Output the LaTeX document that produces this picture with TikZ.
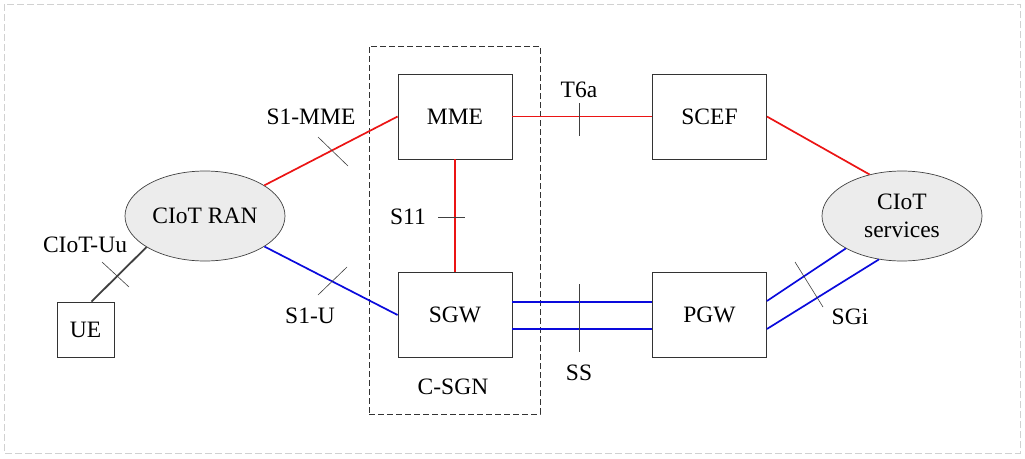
\documentclass[tikz,border=0pt]{standalone}
\usepackage{fontspec}
\setmainfont{Liberation Serif}
\usetikzlibrary{shapes.geometric}
\definecolor{lnred}{RGB}{235,20,20}
\definecolor{lnblue}{RGB}{10,10,220}
\definecolor{ellfill}{RGB}{236,236,236}
\begin{document}
\begin{tikzpicture}[x=1pt,y=-1pt,
  font=\fontsize{23.5}{28}\selectfont,
  box/.style={draw=black!80, line width=0.8pt, fill=white, minimum width=114pt, minimum height=85pt, inner sep=0pt},
  ell/.style={ellipse, draw=black!75, line width=0.7pt, fill=ellfill, minimum width=160pt, minimum height=90pt, inner sep=0pt, align=center},
  redline/.style={draw=lnred, line width=1.7pt},
  blueline/.style={draw=lnblue, line width=1.7pt},
  tick/.style={draw=black!75, line width=0.6pt},
  lbl/.style={inner sep=0pt}]
\useasboundingbox (0,0) rectangle (1025,458);
\draw[black!18, line width=0.8pt, dash pattern=on 7pt off 3pt] (4,4) rectangle (1020,453);

% C-SGN group
\node[draw=black!80, dash pattern=on 6pt off 3pt, line width=0.8pt, minimum width=171pt, minimum height=368pt, inner sep=0pt] (csgn) at (454.5,230) {};
\node[lbl] (csgnlbl) at (453,387) {C-SGN};

% nodes
\node[box] (mme) at (455,116.5) {MME};
\node[box] (sgw) at (455,315) {SGW};
\node[box] (scef) at (709.5,116.5) {SCEF};
\node[box] (pgw) at (709.5,315) {PGW};
\node[box, minimum width=57pt, minimum height=55pt] (ue) at (85.5,329.5) {UE};
\node[ell] (ran) at (205,216) {CIoT RAN};
\node[ell] (svc) at (902,216) {CIoT\\services};

% connectors
\draw[draw=black!75, line width=1.8pt] ([xshift=6pt]ue.north) -- (ran.208);
\draw[redline] (ran) -- (mme.west);
\draw[blueline] (ran) -- (sgw.west);
\draw[redline] (mme.south) -- (sgw.north);
\draw[redline] (mme.east) -- (scef.west);
\draw[redline] (scef.east) -- (svc.128);
\draw[blueline] ([yshift=13pt]sgw.east) -- ([yshift=13pt]pgw.west);
\draw[blueline] ([yshift=-14pt]sgw.east) -- ([yshift=-14pt]pgw.west);
\draw[blueline] ([yshift=14pt]pgw.east) -- (svc.210);
\draw[blueline] ([yshift=-14pt]pgw.east) -- (svc.242);

% interface ticks
\draw[tick] (102,262) -- (129,287);
\draw[tick] (318,137) -- (348,166);
\draw[tick] (318,295) -- (347,267);
\draw[tick] (438,217) -- (465,217);
\draw[tick] (579,103) -- (579,136);
\draw[tick] (579,284) -- (579,352);
\draw[tick] (795,262) -- (823,307);

% interface labels
\node[lbl] (luu) at (85,245) {CIoT-Uu};
\node[lbl] (ls1mme) at (311,117) {S1-MME};
\node[lbl] (ls1u) at (310,316) {S1-U};
\node[lbl] (ls11) at (408,217) {S11};
\node[lbl] (lt6a) at (579,90) {T6a};
\node[lbl] (lss) at (579,373) {SS};
\node[lbl] (lsgi) at (850,317) {SGi};
\end{tikzpicture}
\end{document}
